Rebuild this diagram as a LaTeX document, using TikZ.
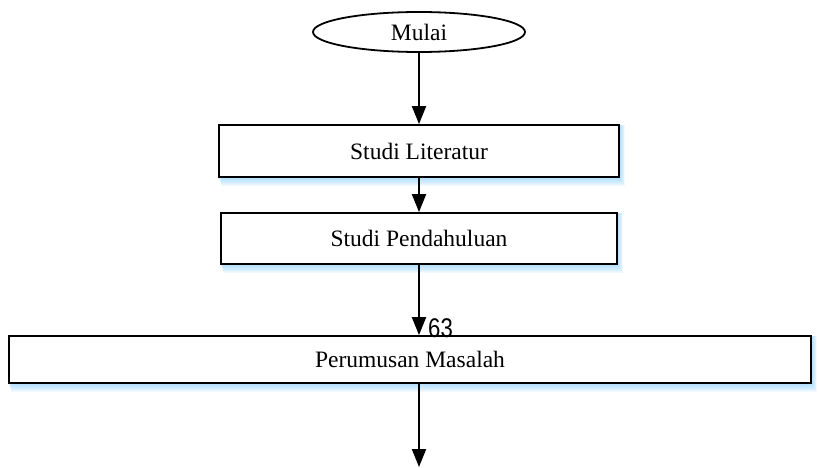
\documentclass[tikz,border=0pt]{standalone}
\usepackage{fontspec}
\setmainfont{Liberation Serif}
\newfontfamily\pagefont[FakeStretch=0.82]{Liberation Sans}
\usetikzlibrary{arrows.meta,shapes.geometric}
\pgfdeclarelayer{background}
\pgfsetlayers{background,main}
\tikzset{
  label font/.style={font=\fontsize{23.5}{27}\selectfont},
  startend/.style={ellipse, draw=black, line width=1.8pt, fill=white,
    minimum width=212pt, minimum height=40pt, inner sep=0pt, label font},
  process/.style={rectangle, draw=black, line width=1.8pt, fill=white,
    inner sep=0pt, label font},
  flowarrow/.style={draw=black, line width=2pt,
    -{Triangle[length=18pt,width=14pt]}},
}
% soft bluish shadow under a box
\newcommand{\boxshadow}[1]{%
  \begin{pgfonlayer}{background}
    \foreach \d in {1,2,...,8}{
      \fill[blue!40!cyan!50, opacity=0.1]
        ([xshift=\d*0.4pt, yshift=-\d*1pt]#1.south west) rectangle
        ([xshift=\d*0.6pt, yshift=-1pt]#1.north east);
    }
  \end{pgfonlayer}}
\begin{document}
\begin{tikzpicture}[x=1pt,y=-1pt]
  \useasboundingbox (0,0) rectangle (819,468);

  \node[startend] (mulai) at (419,32) {Mulai};
  \node[process, minimum width=400pt, minimum height=52pt] (lit) at (419,151) {Studi Literatur};
  \node[process, minimum width=396pt, minimum height=51pt] (pend) at (419,238.5) {Studi Pendahuluan};
  \node[process, minimum width=802pt, minimum height=47pt] (rumus) at (410,359.5) {Perumusan Masalah};
  \coordinate (bawah) at (419,467);

  \boxshadow{lit}
  \boxshadow{pend}
  \boxshadow{rumus}

  \draw[flowarrow] (mulai.south) -- (lit.north);
  \draw[flowarrow] (lit.south) -- (pend.north);
  \draw[flowarrow] (pend.south) -- (pend.south |- rumus.north);
  \draw[flowarrow] (rumus.south -| bawah) -- (bawah);

  \node[anchor=base west, inner sep=0pt, font=\pagefont\fontsize{27}{29}\selectfont]
    (hal) at (428,337) {63};
\end{tikzpicture}
\end{document}
